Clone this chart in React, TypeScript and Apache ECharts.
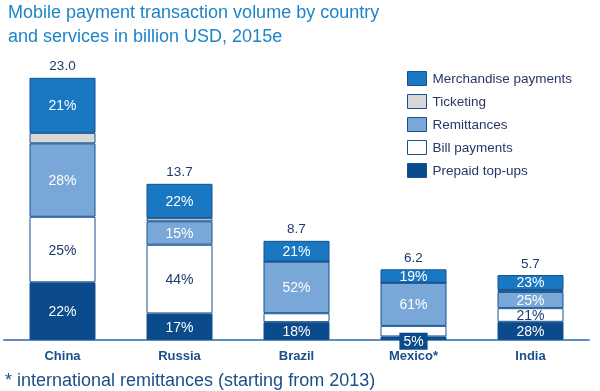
import React, { useEffect, useRef } from "react";
import * as echarts from "echarts";

const categories = ["China", "Russia", "Brazil", "Mexico*", "India"];
const totals = [23.0, 13.7, 8.7, 6.2, 5.7];
// shares in percent, bottom to top of each stack
const prepaidTopUps = [22, 17, 18, 5, 28];
const billPayments = [25, 44, 9, 15, 21];
const remittances = [28, 15, 52, 61, 25];
const ticketing = [4, 2, 0, 0, 3];
const merchandisePayments = [21, 22, 21, 19, 23];
// which shares carry a printed label
const billLabelShown = [true, true, false, false, true];

const seriesNames = ["Prepaid top-ups", "Bill payments", "Remittances", "Ticketing", "Merchandise payments"];
const legendOrder = ["Merchandise payments", "Ticketing", "Remittances", "Bill payments", "Prepaid top-ups"];

export default function App() {
  const ref = useRef<HTMLDivElement>(null);
  useEffect(() => {
    if (!ref.current) return;
    const chart = echarts.init(ref.current, null, { renderer: "svg" });
    const font = "Liberation Sans, Arial, sans-serif";
    const border = "#15528f";
    const mk = (
      name: string,
      pcts: number[],
      color: string,
      labelColor: string,
      shown: (i: number) => boolean
    ) => ({
      name,
      type: "bar",
      stack: "total",
      barWidth: 66,
      itemStyle: { color, borderColor: border, borderWidth: 1 },
      data: pcts.map((p, i) => ({
        value: (totals[i] * p) / 100,
        label: {
          show: shown(i),
          ...(name === "Prepaid top-ups" && i === 3
            ? { backgroundColor: "#0b4a8b", padding: [2, 4, 1, 4], offset: [0, 3] }
            : {}),
        },
      })),
      label: {
        show: true,
        position: "inside",
        color: labelColor,
        fontFamily: font,
        fontSize: 14,
        formatter: (p: any) => pcts[p.dataIndex] + "%",
      },
      emphasis: { disabled: true },
    });
    chart.setOption({
      animation: false,
      title: {
        text: "Mobile payment transaction volume by country\nand services in billion USD, 2015e",
        left: 8,
        top: 0,
        padding: 0,
        textStyle: {
          color: "#1c84c9",
          fontFamily: font,
          fontSize: 18,
          fontWeight: "normal",
          lineHeight: 24,
        },
      },
      legend: {
        orient: "vertical",
        left: 407,
        top: 71,
        padding: 0,
        itemWidth: 19,
        itemHeight: 14,
        itemGap: 8,
        icon: "rect",
        data: legendOrder,
        selectedMode: false,
        itemStyle: { borderColor: border, borderWidth: 1 },
        textStyle: { color: "#2a3568", fontFamily: font, fontSize: 13.5, padding: [0, 0, 0, 1] },
      },
      graphic: [
        {
          type: "text",
          left: 5,
          top: 371,
          style: {
            text: "* international remittances (starting from 2013)",
            fill: "#1b4f8a",
            font: `18px ${font}`,
          },
        },
      ],
      grid: { left: 4, right: 11, top: 55, bottom: 51 },
      xAxis: {
        type: "category",
        data: categories,
        axisLine: { lineStyle: { color: "#5b8ec4", width: 2 } },
        axisTick: { show: false },
        axisLabel: {
          color: "#1b4f8a",
          fontFamily: font,
          fontSize: 13,
          fontWeight: "bold",
          margin: 9,
        },
      },
      yAxis: { type: "value", min: 0, max: 25, show: false, splitLine: { show: false } },
      series: [
        mk(seriesNames[0], prepaidTopUps, "#0b4a8b", "#ffffff", (i) => prepaidTopUps[i] > 0),
        mk(seriesNames[1], billPayments, "#ffffff", "#1f3a6a", (i) => billLabelShown[i]),
        mk(seriesNames[2], remittances, "#79a8d8", "#ffffff", () => true),
        mk(seriesNames[3], ticketing, "#d8d8d8", "#1f3a6a", () => false),
        mk(seriesNames[4], merchandisePayments, "#1a78c2", "#ffffff", () => true),
        {
          name: "total",
          type: "bar",
          stack: "total",
          barWidth: 66,
          data: totals.map(() => 0),
          itemStyle: { color: "transparent" },
          label: {
            show: true,
            position: "top",
            distance: 5,
            color: "#1f3a6a",
            fontFamily: font,
            fontSize: 13.5,
            formatter: (p: any) => totals[p.dataIndex].toFixed(1),
          },
          emphasis: { disabled: true },
        },
      ],
    });
    return () => chart.dispose();
  }, []);
  return (
    <div
      ref={ref}
      style={{ position: "fixed", left: 0, top: 0, width: 600, height: 391 }}
    />
  );
}
